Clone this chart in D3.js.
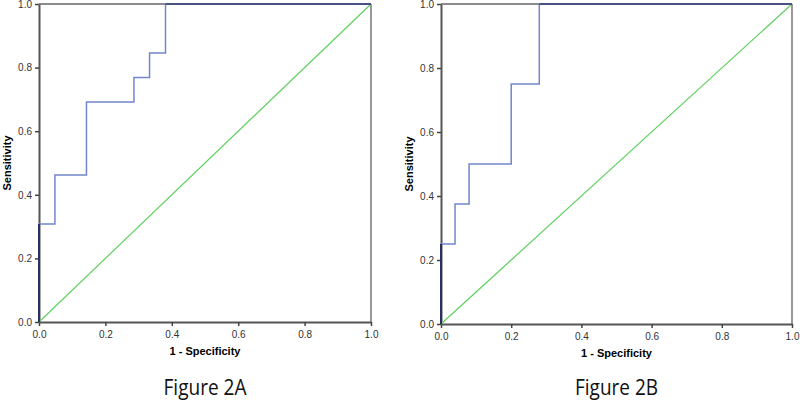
<!DOCTYPE html>
<html>
<head>
<meta charset="utf-8">
<script src="https://cdn.jsdelivr.net/npm/d3@7"></script>
<style>
  body { margin: 0; background: #fff; }
  svg { display: block; }
</style>
</head>
<body>
<div id="chart"></div>
<script>
// ROC steps (x = 1 - specificity, y = sensitivity)
const rocA_fpr  = [0, 0,     0.048, 0.048, 0.143, 0.143, 0.286, 0.286, 0.333, 0.333, 0.381, 0.381, 1];
const rocA_sens = [0, 0.308, 0.308, 0.462, 0.462, 0.692, 0.692, 0.769, 0.769, 0.846, 0.846, 1,     1];
const rocB_fpr  = [0, 0,    0.04, 0.04,  0.08,  0.08, 0.2, 0.2,  0.28, 0.28, 1];
const rocB_sens = [0, 0.25, 0.25, 0.375, 0.375, 0.5,  0.5, 0.75, 0.75, 1,    1];
const tickVals = [0, 0.2, 0.4, 0.6, 0.8, 1.0];
const captions = ["Figure 2A", "Figure 2B"];

const svg = d3.select("#chart")
    .append("svg")
    .attr("width", 800)
    .attr("height", 400);

// one panel per figure
const panels = [
    { left: 39, right: 371, top: 4, bottom: 322, fpr: rocA_fpr, sens: rocA_sens, caption: captions[0] },
    { left: 441, right: 792, top: 4, bottom: 324, fpr: rocB_fpr, sens: rocB_sens, caption: captions[1] }
];

panels.forEach(function (p) {
    const x = d3.scaleLinear().domain([0, 1]).range([p.left, p.right]);
    const y = d3.scaleLinear().domain([0, 1]).range([p.bottom, p.top]);
    const g = svg.append("g");

    // frame (top / right)
    g.append("line")
        .attr("x1", x(0)).attr("x2", x(1)).attr("y1", y(1)).attr("y2", y(1))
        .style("stroke", "#666").style("stroke-width", 1.5);
    g.append("line")
        .attr("x1", x(1)).attr("x2", x(1)).attr("y1", y(0)).attr("y2", y(1))
        .style("stroke", "#777").style("stroke-width", 1.5);

    // axes
    const xAxis = g.append("g")
        .attr("transform", `translate(0, ${p.bottom})`)
        .call(d3.axisBottom(x).tickValues(tickVals).tickFormat(d3.format(".1f")).tickSize(4).tickSizeOuter(0));
    const yAxis = g.append("g")
        .attr("transform", `translate(${p.left}, 0)`)
        .call(d3.axisLeft(y).tickValues(tickVals).tickFormat(d3.format(".1f")).tickSize(4).tickSizeOuter(0));
    [xAxis, yAxis].forEach(function (a) {
        a.select(".domain").style("stroke", "#555").style("stroke-width", 2);
        a.selectAll(".tick line").style("stroke", "#444").style("stroke-width", 1.5);
        a.selectAll(".tick text")
            .style("font-family", "'Liberation Sans', Arial, sans-serif")
            .style("font-size", "10px")
            .style("fill", "#333");
    });
    xAxis.selectAll(".tick text").attr("dy", "0.9em");

    // reference diagonal
    g.append("line")
        .attr("x1", x(0)).attr("y1", y(0)).attr("x2", x(1)).attr("y2", y(1))
        .style("stroke", "#5fd05f").style("stroke-width", 1.2);

    // ROC curve
    const pts = p.fpr.map(function (d, i) { return [d, p.sens[i]]; });
    const line = d3.line()
        .x(function (d) { return x(d[0]); })
        .y(function (d) { return y(d[1]); });
    g.append("path")
        .datum(pts)
        .attr("d", line)
        .style("fill", "none")
        .style("stroke", "#7386cc")
        .style("stroke-width", 1.5);

    // darker overlap where the curve runs along the frame
    g.append("line")
        .attr("x1", x(0)).attr("x2", x(0)).attr("y1", y(0)).attr("y2", y(p.sens[1]))
        .style("stroke", "#2a3160").style("stroke-width", 2);
    g.append("line")
        .attr("x1", x(p.fpr[p.fpr.length - 2])).attr("x2", x(1)).attr("y1", y(1)).attr("y2", y(1))
        .style("stroke", "#3a4270").style("stroke-width", 1.5);

    const cx = (p.left + p.right) / 2;

    // axis titles
    g.append("text")
        .attr("transform", `translate(${p.left - 28}, ${(p.top + p.bottom) / 2}) rotate(-90)`)
        .attr("text-anchor", "middle")
        .style("font-family", "'Liberation Sans', Arial, sans-serif")
        .style("font-size", "11px")
        .style("font-weight", "bold")
        .text("Sensitivity");
    g.append("text")
        .attr("x", cx)
        .attr("y", p.bottom + 33)
        .attr("text-anchor", "middle")
        .style("font-family", "'Liberation Sans', Arial, sans-serif")
        .style("font-size", "11px")
        .style("font-weight", "bold")
        .text(p === panels[0] ? "1 - Specificity" : "1 -  Specificity");

    // figure caption
    g.append("text")
        .attr("x", cx)
        .attr("y", 395)
        .attr("text-anchor", "middle")
        .attr("textLength", 83)
        .attr("lengthAdjust", "spacingAndGlyphs")
        .style("font-family", "'Open Sans', sans-serif")
        .style("font-size", "21px")
        .style("fill", "#111")
        .text(p.caption);
});
</script>
</body>
</html>
